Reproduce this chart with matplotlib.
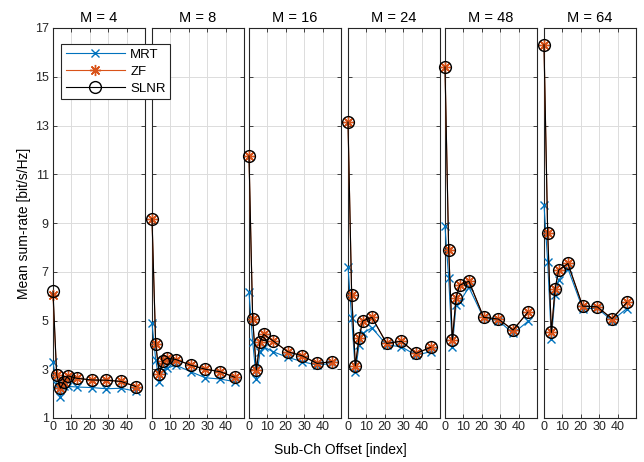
import numpy as np
import matplotlib
matplotlib.use('Agg')
import matplotlib.pyplot as plt

plt.rcParams['font.family'] = ['Liberation Sans', 'DejaVu Sans']

# sub-channel offsets (same for every panel)
offsets = [0, 2, 4, 6, 8, 13, 21, 29, 37, 45]
antennas = [4, 8, 16, 24, 48, 64]

mrt = [
    [3.30, 2.35, 1.87, 2.30, 2.30, 2.27, 2.25, 2.20, 2.22, 2.10],
    [4.88, 3.40, 2.49, 2.97, 3.04, 3.17, 2.90, 2.65, 2.60, 2.49],
    [6.15, 4.13, 2.59, 3.72, 3.92, 3.72, 3.49, 3.31, 3.17, 3.24],
    [7.20, 5.09, 2.90, 3.99, 4.47, 4.70, 4.00, 3.92, 3.58, 3.72],
    [8.86, 6.73, 3.92, 5.63, 5.77, 6.36, 5.10, 5.00, 4.47, 4.96],
    [9.75, 7.40, 4.24, 6.04, 6.66, 7.13, 5.49, 5.50, 5.00, 5.49],
]
zf = [
    [6.04, 2.76, 2.22, 2.49, 2.73, 2.63, 2.56, 2.55, 2.50, 2.29],
    [9.18, 4.02, 2.79, 3.34, 3.45, 3.40, 3.17, 3.00, 2.90, 2.67],
    [11.75, 5.06, 2.97, 4.13, 4.43, 4.17, 3.72, 3.55, 3.24, 3.31],
    [13.14, 6.04, 3.14, 4.29, 4.98, 5.13, 4.06, 4.15, 3.65, 3.90],
    [15.40, 7.89, 4.20, 5.93, 6.45, 6.61, 5.13, 5.06, 4.61, 5.34],
    [16.31, 8.60, 4.51, 6.29, 7.07, 7.34, 5.59, 5.56, 5.07, 5.74],
]
slnr = [
    [6.20, 2.76, 2.22, 2.49, 2.73, 2.63, 2.56, 2.55, 2.50, 2.29],
    [9.18, 4.02, 2.79, 3.34, 3.45, 3.40, 3.17, 3.00, 2.90, 2.67],
    [11.75, 5.06, 2.97, 4.13, 4.43, 4.17, 3.72, 3.55, 3.24, 3.31],
    [13.14, 6.04, 3.14, 4.29, 4.98, 5.13, 4.06, 4.15, 3.65, 3.90],
    [15.40, 7.89, 4.20, 5.93, 6.45, 6.61, 5.13, 5.06, 4.61, 5.34],
    [16.31, 8.60, 4.51, 6.29, 7.07, 7.34, 5.59, 5.56, 5.07, 5.74],
]

W, H = 644, 462
fig = plt.figure(figsize=(W / 100, H / 100), dpi=100)

lefts = [53, 152, 249, 348, 445, 544]
ax_w = 92
top, bottom = 28, 418
edge = '#262626'
asterisk = (8, 2, 0)  # matlab style '*'

for i, m in enumerate(antennas):
    ax = fig.add_axes([lefts[i] / W, 1 - bottom / H, ax_w / W, (bottom - top) / H])
    ax.plot(offsets, mrt[i], color='#0072BD', marker='x', lw=0.8, ms=6, mew=1.0,
            label='MRT', clip_on=False, zorder=3)
    ax.plot(offsets, zf[i], color='#D95319', marker=asterisk, lw=0.8, ms=8, mew=1.0,
            label='ZF', clip_on=False, zorder=4)
    ax.plot(offsets, slnr[i], color='k', marker='o', mfc='none', lw=0.8, ms=8.5, mew=1.0,
            label='SLNR', clip_on=False, zorder=5)
    ax.set_xlim(0, 50)
    ax.set_ylim(1, 17)
    ax.set_xticks([0, 10, 20, 30, 40])
    ax.set_yticks(np.arange(1, 18, 2))
    ax.grid(True, color='#dcdcdc', lw=0.7)
    ax.set_axisbelow(True)
    ax.tick_params(direction='in', top=True, right=True, length=3, width=0.6,
                   colors=edge, labelsize=9, pad=3)
    ax.tick_params(axis='x', pad=2)
    if i > 0:
        ax.tick_params(labelleft=False)
    for sp in ax.spines.values():
        sp.set_color(edge)
        sp.set_linewidth(0.8)
    ax.set_title(f'M = {m}', fontsize=10.5, pad=4, color='k')
    if i == 0:
        ax.set_ylabel('Mean sum-rate [bit/s/Hz]', fontsize=10, labelpad=3)
        handles, labels = ax.get_legend_handles_labels()

fig.text(340 / W, 1 - 450 / H, 'Sub-Ch Offset [index]', ha='center', va='center', fontsize=10)

leg = fig.legend(handles, labels, loc='upper left', bbox_to_anchor=(61 / W, 1 - 44 / H),
                 fontsize=9.5, handlelength=4.5, handletextpad=0.4, fancybox=False,
                 framealpha=1, edgecolor=edge, borderaxespad=0, borderpad=0.35,
                 labelspacing=0.35)
leg.get_frame().set_linewidth(0.8)

fig.savefig('out.png', dpi=100)
